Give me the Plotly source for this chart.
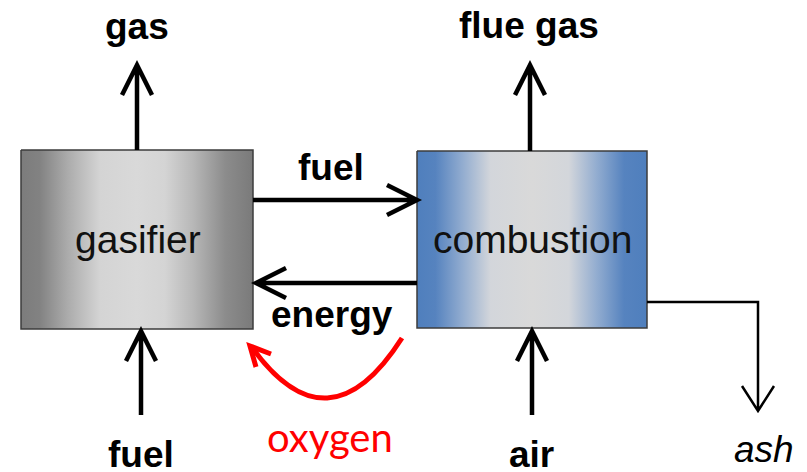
import plotly.graph_objects as go

# ---- content (text) ----
box_labels = ["gasifier", "combustion"]
flow_labels_bold = ["gas", "flue gas", "fuel", "energy", "fuel", "air"]
oxygen_label = "oxygen"
ash_label = "ash"

# ---- geometry (pixel space, y downward) ----
boxes = [
    dict(x0=21, x1=253, y0=150, y1=329,
         scale=[[0, "#7c7c7c"], [0.08, "#828282"], [0.2, "#ababab"], [0.34, "#d4d4d4"], [0.5, "#d9d9d9"],
                [0.62, "#d4d4d4"], [0.74, "#b8b8b8"], [0.88, "#8c8c8c"], [1, "#7a7a7a"]]),
    dict(x0=417, x1=647, y0=151, y1=328,
         scale=[[0, "#4f7fbd"], [0.08, "#5683bf"], [0.2, "#93add0"], [0.32, "#d3d6db"], [0.5, "#d9d9d9"],
                [0.66, "#d3d6db"], [0.78, "#93add0"], [0.9, "#5683bf"], [1, "#4f7fbd"]]),
]
box_text_pos = [(138, 239), (532, 239)]
label_pos = [(137, 26), (529, 25), (331, 167), (332, 314), (141, 454), (531, 454)]

# arrows: (tail, tip)
arrows = [
    ((137, 150), (137, 65)),
    ((530, 151), (530, 65)),
    ((253, 200), (417, 200)),
    ((417, 283), (256, 283)),
    ((141, 415), (141, 331)),
    ((532, 415), (532, 331)),
]

fig = go.Figure()

for b, lab, (tx, ty) in zip(boxes, box_labels, box_text_pos):
    fig.add_trace(go.Scatter(
        x=[b["x0"], b["x1"], b["x1"], b["x0"], b["x0"]],
        y=[b["y0"], b["y0"], b["y1"], b["y1"], b["y0"]],
        mode="lines", fill="toself",
        fillgradient=dict(type="horizontal", colorscale=b["scale"]),
        line=dict(color="#3c3c3c", width=1.5),
        hoverinfo="skip", showlegend=False))
    fig.add_annotation(x=tx, y=ty, text=lab, showarrow=False,
                       font=dict(family="Liberation Sans", size=39, color="#111111"))

def head(tail, tip, length=30, half=15):
    (x0, y0), (x1, y1) = tail, tip
    dx, dy = x1 - x0, y1 - y0
    n = (dx * dx + dy * dy) ** 0.5
    ux, uy = dx / n, dy / n
    bx, by = x1 - ux * length, y1 - uy * length
    px, py = -uy, ux
    return (bx + px * half, by + py * half), (bx - px * half, by - py * half)

shapes = []
for tail, tip in arrows:
    a, c = head(tail, tip)
    shapes.append(dict(type="path",
                       path=f"M{tail[0]},{tail[1]} L{tip[0]},{tip[1]} M{a[0]},{a[1]} L{tip[0]},{tip[1]} L{c[0]},{c[1]}",
                       line=dict(color="#000000", width=4.5)))

# ash line
shapes.append(dict(type="path", path="M647,302 L758,302 L758,411 M742,386 L758,411 L774,386",
                   line=dict(color="#000000", width=2.5)))

# red oxygen curve
shapes.append(dict(type="path", path="M402,338 Q328,454 251,346",
                   line=dict(color="#ff0000", width=5)))
shapes.append(dict(type="path", path="M271,354 L250,346 L256,367",
                   line=dict(color="#ff0000", width=5)))

fig.update_layout(shapes=shapes)

for lab, (x, y) in zip(flow_labels_bold, label_pos):
    fig.add_annotation(x=x, y=y, text=f"<b>{lab}</b>", showarrow=False,
                       font=dict(family="Liberation Sans", size=37, color="#000000"))

fig.add_annotation(x=330, y=437, text=oxygen_label, showarrow=False,
                   font=dict(family="Lato", size=40, color="#ff0000"))
fig.add_annotation(x=764, y=449, text=f"<i>{ash_label}</i>", showarrow=False,
                   font=dict(family="Liberation Sans", size=37, color="#000000"))

fig.update_layout(
    width=807, height=472,
    margin=dict(l=0, r=0, t=0, b=0),
    paper_bgcolor="white", plot_bgcolor="white",
    xaxis=dict(range=[0, 807], visible=False, fixedrange=True),
    yaxis=dict(range=[472, 0], visible=False, fixedrange=True),
    showlegend=False,
)

fig.write_html("out.html", config={"displayModeBar": False},
               post_script="document.body.style.margin='0';document.body.style.overflow='hidden';")
